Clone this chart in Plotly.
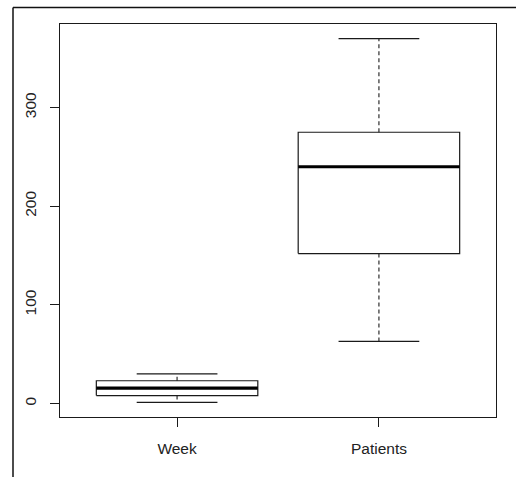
import plotly.graph_objects as go

categories = ["Week", "Patients"]
lower_whisker = [1, 63]
q1 = [8, 152]
median = [15.5, 240]
q3 = [23, 275]
upper_whisker = [30, 370]

INK = "#1a1a1a"
BOX_HALF = 0.4
CAP_HALF = 0.2

fig = go.Figure()

for i, cat in enumerate(categories):
    x0 = i + 1
    # box rectangle
    fig.add_trace(go.Scatter(
        x=[x0 - BOX_HALF, x0 + BOX_HALF, x0 + BOX_HALF, x0 - BOX_HALF, x0 - BOX_HALF],
        y=[q1[i], q1[i], q3[i], q3[i], q1[i]],
        mode="lines", line=dict(color=INK, width=1.2), hoverinfo="skip", showlegend=False))
    # median
    fig.add_trace(go.Scatter(
        x=[x0 - BOX_HALF, x0 + BOX_HALF], y=[median[i], median[i]],
        mode="lines", line=dict(color="#000000", width=3.2), hoverinfo="skip", showlegend=False))
    # whiskers (dashed)
    fig.add_trace(go.Scatter(
        x=[x0, x0, None, x0, x0],
        y=[q3[i], upper_whisker[i], None, q1[i], lower_whisker[i]],
        mode="lines", line=dict(color=INK, width=1.1, dash="4px,3px"), hoverinfo="skip", showlegend=False))
    # caps
    fig.add_trace(go.Scatter(
        x=[x0 - CAP_HALF, x0 + CAP_HALF, None, x0 - CAP_HALF, x0 + CAP_HALF],
        y=[upper_whisker[i], upper_whisker[i], None, lower_whisker[i], lower_whisker[i]],
        mode="lines", line=dict(color=INK, width=1.2), hoverinfo="skip", showlegend=False))

ymin = min(lower_whisker)
ymax = max(upper_whisker)
pad = (ymax - ymin) * 0.04
n = len(categories)
xpad = n * 0.04

font = dict(family="Liberation Sans, Arial, sans-serif", size=15.5, color="#222222")

fig.update_layout(
    width=516, height=477,
    margin=dict(l=60, r=20, t=24, b=60),
    paper_bgcolor="white", plot_bgcolor="white",
    font=font,
    xaxis=dict(
        range=[0.5 - xpad, n + 0.5 + xpad],
        tickvals=list(range(1, n + 1)), ticktext=categories,
        ticks="outside", ticklen=9, tickwidth=1, tickcolor=INK,
        showgrid=False, zeroline=False, showline=True, linecolor=INK, linewidth=1, mirror=True,
        ticklabelstandoff=8, tickfont=font,
    ),
    yaxis=dict(
        range=[ymin - pad, ymax + pad],
        tickvals=[0, 100, 200, 300],
        ticks="outside", ticklen=9, tickwidth=1, tickcolor=INK,
        showgrid=False, zeroline=False, showline=True, linecolor=INK, linewidth=1, mirror=True,
        tickangle=-90, ticklabelstandoff=8, tickfont=font,
    ),
    shapes=[
        dict(type="line", xref="paper", yref="paper",
             x0=-47 / 436, x1=1.2, y0=1 + 16.5 / 393, y1=1 + 16.5 / 393,
             line=dict(color="#111111", width=1.5)),
        dict(type="line", xref="paper", yref="paper",
             x0=-47 / 436, x1=-47 / 436, y0=1 + 16.5 / 393, y1=-0.3,
             line=dict(color="#111111", width=1.5)),
    ],
)

fig.write_html("out.html", config={"displayModeBar": False},
               post_script="document.body.style.margin='0';document.body.style.overflow='hidden';")
